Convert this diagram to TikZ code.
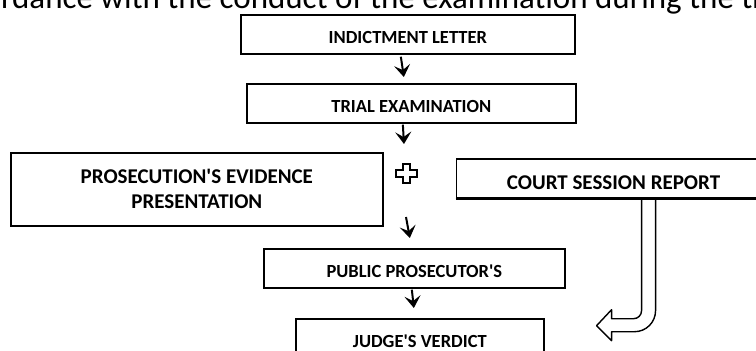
\documentclass[tikz,border=0pt]{standalone}
\usepackage{fontspec}
\setmainfont{Carlito}
\usetikzlibrary{positioning, calc, arrows.meta}

\tikzset{
    stepbox/.style={draw, line width=1.7pt, inner sep=0pt, text height=29pt, text depth=10pt,
        font=\bfseries\fontsize{18.5}{22}\selectfont},
    widebox/.style={draw, line width=1.7pt, inner sep=0pt, align=center,
        font=\bfseries\fontsize{21}{25}\selectfont},
    flow/.style={-{Stealth[length=12pt, width=16pt, inset=5pt]}, line width=2pt},
    hollow/.style={draw, fill=white, line width=1.4pt, line join=round}
}

\begin{document}
\begin{tikzpicture}[x=1pt, y=-1pt]
    \useasboundingbox (0,0) rectangle (756,351);
    \clip (0,0) rectangle (756,351);

    % running text cut off at the top
    \node[anchor=base west, inner sep=0pt, font=\fontsize{33}{36}\selectfont] (bodyline) at (-60,8)
        {accordance with the conduct of the examination during the trial};

    % main chain
    \node[stepbox, anchor=north west, minimum width=334pt] (letter) at (240,14) {INDICTMENT LETTER};
    \node[stepbox, anchor=north west, minimum width=329pt] (trial) at (246,83) {TRIAL EXAMINATION};
    \node[widebox, anchor=north west, minimum width=372pt, minimum height=73pt] (evidence) at (10,152)
        {PROSECUTION\textquotesingle S EVIDENCE\\PRESENTATION};
    \node[widebox, anchor=north west, minimum width=314pt, text height=31pt, text depth=8pt]
        (court) [right=72pt of evidence.north east, anchor=north west, yshift=-6pt] {COURT SESSION REPORT};
    \node[stepbox, anchor=north west, minimum width=301pt] (public) at (263,248) {PUBLIC PROSECUTOR\textquotesingle S};
    \node[stepbox, anchor=north west, minimum width=248pt] (verdict) at (295,318) {JUDGE\textquotesingle S VERDICT};

    \coordinate (joinA) at (404,144);
    \coordinate (joinB) at (406,217);

    \draw[flow] ([xshift=-7pt, yshift=-2pt]letter.south) -- ([xshift=-7.5pt, yshift=6pt]trial.north);
    \draw[flow] ([xshift=-8.5pt, yshift=-1pt]trial.south) -- (joinA);
    \draw[flow] (joinB) -- ([xshift=-4.5pt, yshift=10pt]public.north);
    \draw[flow] ([xshift=-2.5pt, yshift=-1pt]public.south) -- ([xshift=-6pt, yshift=10pt]verdict.north);

    % plus sign
    \draw[hollow, line width=2pt, line join=miter] (403,164) -- (410,164) -- (410,170) -- (417,170) -- (417,177)
        -- (410,177) -- (410,183) -- (403,183) -- (403,177) -- (396,177) -- (396,170) -- (403,170) -- cycle;

    % hollow arrow out of the report
    \draw[hollow] ($(court.south)+(28,0)$) [rounded corners=8pt] -- ($(court.south)+(28,120)$)
        [sharp corners] -- ($(court.south)+(-2,120)$) -- ($(court.south)+(-2,111)$)
        -- ($(court.south)+(-17,127)$) -- ($(court.south)+(-2,142)$) -- ($(court.south)+(-2,133)$)
        [rounded corners=21pt] -- ($(court.south)+(42,133)$) [sharp corners] -- ($(court.south)+(42,0)$);
    \draw[line width=1.7pt] (court.south west) -- (court.south east);
\end{tikzpicture}
\end{document}
